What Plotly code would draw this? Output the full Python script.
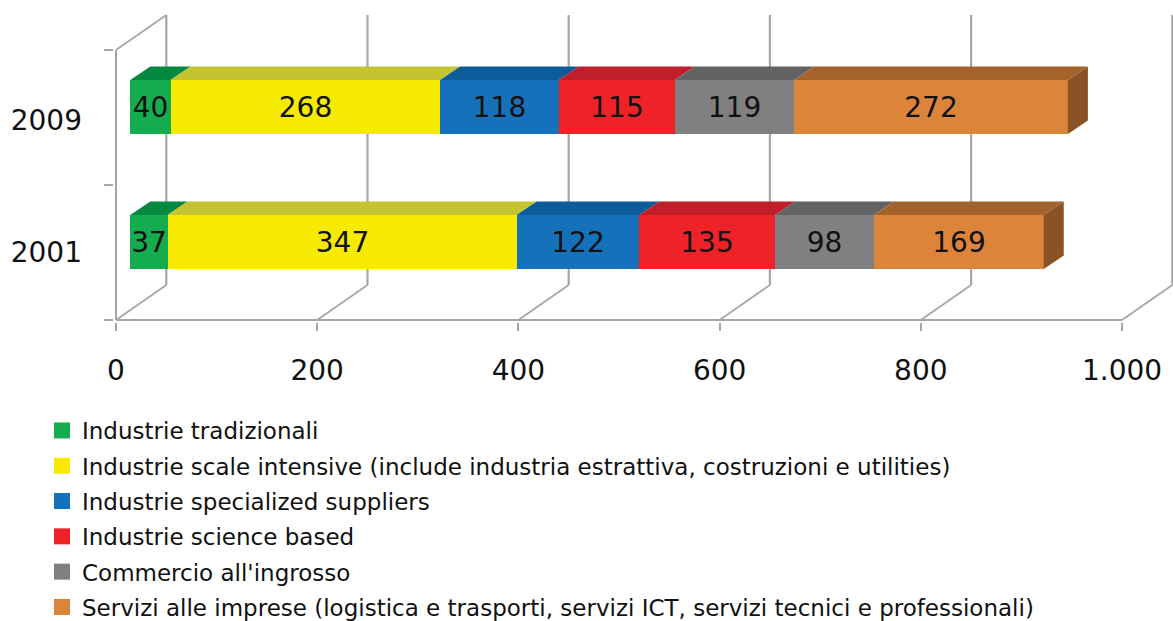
import plotly.graph_objects as go

years = ["2001", "2009"]
series_names = [
    "Industrie tradizionali",
    "Industrie scale intensive (include industria estrattiva, costruzioni e utilities)",
    "Industrie specialized suppliers",
    "Industrie science based",
    "Commercio all'ingrosso",
    "Servizi alle imprese (logistica e trasporti, servizi ICT, servizi tecnici e professionali)",
]
values_2001 = [37, 347, 122, 135, 98, 169]
values_2009 = [40, 268, 118, 115, 119, 272]
x_ticks = [0, 200, 400, 600, 800, 1000]
x_labels = ["0", "200", "400", "600", "800", "1.000"]

front_colors = ["#13AD50", "#F6EA00", "#1572BA", "#EE2227", "#808080", "#DC843A"]
top_colors = ["#05883F", "#C3C430", "#0D5C99", "#C11E2B", "#636363", "#A4632B"]
side_color = "#8A5325"
grid_color = "#A6A6A6"

W, H = 1173, 621
LEFT, FLOOR = 116, 320
PAD = 2
PX_PER_UNIT = 1.006
SLOT = 135.0
BAR_H = 54.0
START = 14.2
BAR_DX, BAR_DY = 19.9, 13.5
WALL_DX, WALL_DY = 50.0, 35.0

rows = [values_2001, values_2009]
label_pos = [67.5, 200.0]
bar_pos = [78.0, 213.0]

fig = go.Figure()

for s, name in enumerate(series_names):
    vals = [row[s] for row in rows]
    bases = [START + sum(row[:s]) for row in rows]
    fig.add_trace(go.Bar(
        orientation="h", x=vals, y=bar_pos, base=bases, width=BAR_H,
        marker=dict(color=front_colors[s], line=dict(width=0)),
        text=[str(v) for v in vals], textposition="inside",
        insidetextanchor="middle", textangle=0, constraintext="none",
        textfont=dict(family="DejaVu Sans", size=28, color="#111111"),
        showlegend=False, hoverinfo="x+y",
    ))

for s in range(len(series_names)):
    xs, ys = [], []
    for row, yc in zip(rows, bar_pos):
        x0 = START + sum(row[:s])
        x1 = x0 + row[s]
        yt = yc + BAR_H / 2
        xs += [x0, x0 + BAR_DX, x1 + BAR_DX, x1, x0, None]
        ys += [yt, yt + BAR_DY, yt + BAR_DY, yt, yt, None]
    fig.add_trace(go.Scatter(x=xs, y=ys, mode="lines", fill="toself",
                             fillcolor=top_colors[s], line=dict(width=0),
                             showlegend=False, hoverinfo="skip"))

xs, ys = [], []
for row, yc in zip(rows, bar_pos):
    x1 = START + sum(row)
    yb, yt = yc - BAR_H / 2, yc + BAR_H / 2
    xs += [x1, x1 + BAR_DX, x1 + BAR_DX, x1, x1, None]
    ys += [yb, yb + BAR_DY, yt + BAR_DY, yt, yb, None]
fig.add_trace(go.Scatter(x=xs, y=ys, mode="lines", fill="toself",
                         fillcolor=side_color, line=dict(width=0),
                         showlegend=False, hoverinfo="skip"))

for s, name in enumerate(series_names):
    fig.add_trace(go.Scatter(
        x=[None], y=[None], mode="markers", name=name, legendgroup=name,
        marker=dict(symbol="square", size=16, color=front_colors[s]),
    ))

shapes = []
def seg(x0, y0, x1, y1, w):
    shapes.append(dict(type="line", layer="below", xref="x", yref="y",
                       x0=x0, y0=y0, x1=x1, y1=y1,
                       line=dict(color=grid_color, width=w)))

wall_top = SLOT * len(years)
for t in x_ticks:
    seg(t, 0, t + WALL_DX, WALL_DY, 1.7)
    seg(t + WALL_DX, WALL_DY, t + WALL_DX, wall_top + WALL_DY, 2.2)
seg(0, 0, 1000, 0, 2)
seg(0, 0, 0, wall_top, 2)
seg(0, wall_top, WALL_DX, wall_top + WALL_DY, 1.7)

plot_w = W - LEFT + PAD
plot_h = FLOOR + PAD

fig.update_layout(
    width=W, height=H, autosize=False,
    paper_bgcolor="white", plot_bgcolor="rgba(0,0,0,0)",
    margin=dict(l=LEFT - PAD, r=0, t=0, b=H - plot_h, pad=0, autoexpand=False),
    barmode="overlay", bargap=0, shapes=shapes,
    font=dict(family="DejaVu Sans", color="#111111"),
    xaxis=dict(range=[-PAD / PX_PER_UNIT, (W - LEFT) / PX_PER_UNIT], tickmode="array",
               tickvals=x_ticks, ticktext=x_labels, showgrid=False,
               zeroline=False, showline=False, ticks="outside", ticklen=8,
               tickwidth=1.5, tickcolor=grid_color, ticklabelstandoff=15,
               tickfont=dict(family="DejaVu Sans", size=28, color="#111111")),
    yaxis=dict(range=[-PAD, FLOOR], tickmode="array", tickvals=label_pos,
               ticktext=years, showgrid=False, zeroline=False, showline=False,
               ticks="", ticklabelstandoff=31,
               tickfont=dict(family="DejaVu Sans", size=28, color="#111111"),
               minor=dict(tickmode="array",
                          tickvals=[i * SLOT for i in range(len(years) + 1)],
                          ticks="outside", ticklen=9, tickwidth=1.5,
                          tickcolor=grid_color, showgrid=False)),
    legend=dict(x=(42 - (LEFT - PAD)) / plot_w, xanchor="left",
                y=1 - (409 / plot_h), yanchor="top",
                bgcolor="rgba(0,0,0,0)", borderwidth=0,
                traceorder="grouped", tracegroupgap=2.4, itemsizing="trace",
                font=dict(family="DejaVu Sans", size=23, color="#111111"),
                itemclick=False, itemdoubleclick=False),
)

fig.write_html("out.html", config={"displayModeBar": False},
               post_script="document.body.style.margin='0';")
